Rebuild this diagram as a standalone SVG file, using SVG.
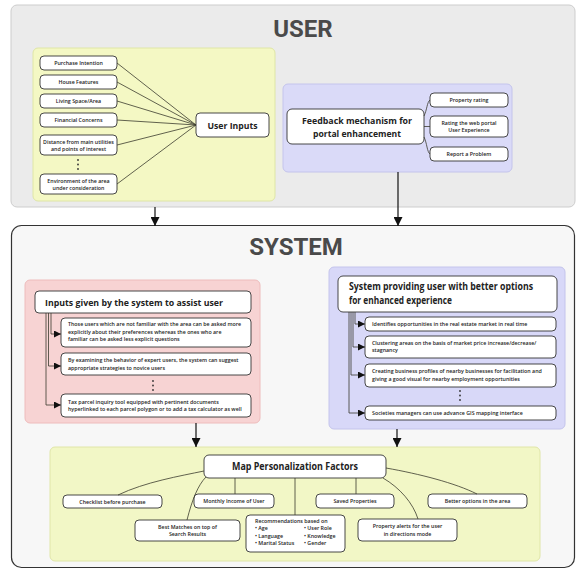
<svg xmlns="http://www.w3.org/2000/svg" width="577" height="571" viewBox="0 0 577 571">
<defs>
<style>
.t{font-family:"Open Sans","Liberation Sans",sans-serif;fill:#222}
.s{font-size:5.3px;font-weight:600}
.m{text-anchor:middle}
.h{font-weight:700}
.title{font-family:"Roboto","Liberation Sans",sans-serif;font-weight:700;font-size:24px;fill:#4a4a4a;text-anchor:middle}
.box{fill:#fff;stroke:#333;stroke-width:0.9}
.ln{fill:none;stroke:#3b3b2e;stroke-width:0.8}
.ar{fill:none;stroke:#111;stroke-width:1.2}
.dot{fill:#333}
</style>
<marker id="big" viewBox="0 0 10 10" refX="10" refY="5" markerWidth="9" markerHeight="9" markerUnits="userSpaceOnUse" orient="auto"><path d="M0,0 L10,5 L0,10 z" fill="#111"/></marker>
<marker id="sm" viewBox="0 0 10 10" refX="10" refY="5" markerWidth="7" markerHeight="7" markerUnits="userSpaceOnUse" orient="auto"><path d="M0,0 L10,5 L0,10 z" fill="#111"/></marker>
</defs>

<!-- USER panel -->
<g id="user-panel">
<rect x="11" y="5" width="564" height="202" rx="6" fill="#ebebeb" stroke="#cdcdcd" stroke-width="1"/>
<text class="title" x="303" y="37">USER</text>
</g>

<g id="user-inputs-group">
<rect x="33" y="48" width="242" height="153" rx="5" fill="#f4f8c4" stroke="#dfe6a6" stroke-width="1"/>
</g>

<g id="purchase-intention"><rect class="box" x="40" y="56" width="77" height="14" rx="4"/><text class="t s m" x="78.5" y="65">Purchase Intention</text></g>
<g id="house-features"><rect class="box" x="40" y="75" width="77" height="14" rx="4"/><text class="t s m" x="78.5" y="84">House Features</text></g>
<g id="living-space"><rect class="box" x="40" y="94" width="77" height="14" rx="4"/><text class="t s m" x="78.5" y="103">Living Space/Area</text></g>
<g id="financial-concerns"><rect class="box" x="40" y="113" width="77" height="14" rx="4"/><text class="t s m" x="78.5" y="122">Financial Concerns</text></g>
<g id="distance"><rect class="box" x="40" y="135" width="77" height="20" rx="4"/><text class="t s m" x="78.5" y="143.5">Distance from main utilities</text><text class="t s m" x="78.5" y="150.5">and points of interest</text></g>
<g id="dots-user"><circle class="dot" cx="78" cy="160" r="0.9"/><circle class="dot" cx="78" cy="164.5" r="0.9"/><circle class="dot" cx="78" cy="169" r="0.9"/></g>
<g id="environment"><rect class="box" x="40" y="174" width="77" height="20" rx="4"/><text class="t s m" x="78.5" y="182.5">Environment of the area</text><text class="t s m" x="78.5" y="189.5">under consideration</text></g>

<g id="user-inputs"><rect class="box" x="196" y="113" width="73" height="24" rx="4"/><text class="t h m" x="232.5" y="128.5" font-size="9.5" textLength="50" lengthAdjust="spacingAndGlyphs">User Inputs</text></g>

<g id="feedback-group"><rect x="283" y="84" width="229" height="88" rx="5" fill="#dadaf8" stroke="#c4c4ec" stroke-width="1"/></g>
<g id="feedback"><rect class="box" x="287" y="109" width="137" height="35" rx="5"/>
<text class="t h m" x="357" y="124" font-size="9.5" textLength="110" lengthAdjust="spacingAndGlyphs">Feedback mechanism for</text>
<text class="t h m" x="357" y="137" font-size="9.5" textLength="88" lengthAdjust="spacingAndGlyphs">portal enhancement</text></g>
<g id="property-rating"><rect class="box" x="430" y="93" width="78" height="14" rx="4"/><text class="t s m" x="469" y="102">Property rating</text></g>
<g id="rating-portal"><rect class="box" x="430" y="116" width="78" height="21" rx="4"/><text class="t s m" x="469" y="125">Rating the web portal</text><text class="t s m" x="469" y="132">User Experience</text></g>
<g id="report-problem"><rect class="box" x="430" y="147" width="78" height="14" rx="4"/><text class="t s m" x="469" y="156">Report a Problem</text></g>

<!-- SYSTEM panel -->
<g id="system-panel">
<rect x="11.5" y="225.5" width="563" height="342" rx="10" fill="#f7f7f7" stroke="#333" stroke-width="1.2"/>
<text class="title" x="296" y="255">SYSTEM</text>
</g>

<g id="assist-group"><rect x="25" y="280" width="235" height="143" rx="5" fill="#f7d3d3" stroke="#eebcbc" stroke-width="1"/></g>
<g id="assist-header"><rect class="box" x="35" y="291" width="216" height="22" rx="4"/><text class="t h" x="45" y="305.5" font-size="9.5" textLength="178" lengthAdjust="spacingAndGlyphs">Inputs given by the system to assist user</text></g>
<g id="assist-1"><rect class="box" x="61" y="318" width="190" height="29" rx="4"/>
<text class="t s" x="68" y="326">Those users which are not familiar with the area can be asked more</text>
<text class="t s" x="68" y="333.5">explicitly about their preferences whereas the ones who are</text>
<text class="t s" x="68" y="341">familiar can be asked less explicit questions</text></g>
<g id="assist-2"><rect class="box" x="61" y="353" width="190" height="22" rx="4"/>
<text class="t s" x="68" y="362">By examining the behavior of expert users, the system can suggest</text>
<text class="t s" x="68" y="369.5">appropriate strategies to novice users</text></g>
<g id="dots-assist"><circle class="dot" cx="153" cy="381" r="0.9"/><circle class="dot" cx="153" cy="385.5" r="0.9"/><circle class="dot" cx="153" cy="390" r="0.9"/></g>
<g id="assist-3"><rect class="box" x="61" y="394" width="190" height="23" rx="4"/>
<text class="t s" x="68" y="403.5">Tax parcel inquiry tool equipped with pertinent documents</text>
<text class="t s" x="68" y="411">hyperlinked to each parcel polygon or to add a tax calculator as well</text></g>

<g id="options-group"><rect x="329" y="267" width="236" height="162" rx="5" fill="#d8d8f8" stroke="#c4c4ec" stroke-width="1"/></g>
<g id="options-header"><rect class="box" x="338" y="276" width="219" height="36" rx="5"/>
<text class="t h" x="349" y="290" font-size="10" textLength="184" lengthAdjust="spacingAndGlyphs">System providing user with better options</text>
<text class="t h" x="349" y="304" font-size="10" textLength="103" lengthAdjust="spacingAndGlyphs">for enhanced experience</text></g>
<g id="opt-1"><rect class="box" x="365" y="317" width="191" height="14" rx="4"/><text class="t s" x="372" y="326">Identifies opportunities in the real estate market in real time</text></g>
<g id="opt-2"><rect class="box" x="365" y="336" width="191" height="22" rx="4"/><text class="t s" x="372" y="344.5">Clustering areas on the basis of market price increase/decrease/</text><text class="t s" x="372" y="352">stagnancy</text></g>
<g id="opt-3"><rect class="box" x="365" y="364" width="191" height="23" rx="4"/><text class="t s" x="372" y="373">Creating business profiles of nearby businesses for facilitation and</text><text class="t s" x="372" y="380.5">giving a good visual for nearby employment opportunities</text></g>
<g id="dots-opt"><circle class="dot" cx="460" cy="391" r="0.9"/><circle class="dot" cx="460" cy="395.5" r="0.9"/><circle class="dot" cx="460" cy="400" r="0.9"/></g>
<g id="opt-4"><rect class="box" x="365" y="406" width="191" height="14" rx="4"/><text class="t s" x="372" y="415">Societies managers can use advance GIS mapping interface</text></g>

<g id="factors-group"><rect x="50" y="447" width="490" height="114" rx="5" fill="#f2f7c6" stroke="#e0e6a8" stroke-width="1"/></g>
<g id="map-factors"><rect class="box" x="204" y="455" width="182" height="23" rx="5"/><text class="t h m" x="295" y="470" font-size="10" textLength="126" lengthAdjust="spacingAndGlyphs">Map Personalization Factors</text></g>
<g id="checklist"><rect class="box" x="63" y="495" width="99" height="13" rx="4"/><text class="t s m" x="112.5" y="503.5">Checklist before purchase</text></g>
<g id="monthly-income"><rect class="box" x="194" y="494" width="80" height="14" rx="4"/><text class="t s m" x="234" y="503">Monthly Income of User</text></g>
<g id="best-matches"><rect class="box" x="135" y="520" width="105" height="21" rx="4"/><text class="t s m" x="187.5" y="528.5">Best Matches on top of</text><text class="t s m" x="187.5" y="536">Search Results</text></g>
<g id="recommendations"><rect class="box" x="246" y="515" width="99" height="37" rx="4"/>
<text class="t s" x="255" y="522.5">Recommendations based on</text>
<text class="t s" x="255" y="530">• Age</text><text class="t s" x="255" y="537.5">• Language</text><text class="t s" x="255" y="545">• Marital Status</text>
<text class="t s" x="304" y="530">• User Role</text><text class="t s" x="304" y="537.5">• Knowledge</text><text class="t s" x="304" y="545">• Gender</text></g>
<g id="saved-properties"><rect class="box" x="316" y="494" width="78" height="14" rx="4"/><text class="t s m" x="355" y="503">Saved Properties</text></g>
<g id="property-alerts"><rect class="box" x="358" y="519" width="99" height="22" rx="4"/><text class="t s m" x="407.5" y="528">Property alerts for the user</text><text class="t s m" x="407.5" y="535.5">in directions mode</text></g>
<g id="better-options"><rect class="box" x="428" y="494" width="99" height="14" rx="4"/><text class="t s m" x="477.5" y="503">Better options in the area</text></g>

<g id="connectors">
<!-- user inputs fan-in -->
<path class="ln" d="M117,63 L196,125"/>
<path class="ln" d="M117,82 L196,125"/>
<path class="ln" d="M117,101 L196,125"/>
<path class="ln" d="M117,120 L196,125"/>
<path class="ln" d="M117,145 L196,125"/>
<path class="ln" d="M117,184 L196,125"/>
<!-- feedback -->
<path class="ln" d="M424,116 C427,110 427,102 430,100"/>
<path class="ln" d="M424,126.5 L430,126.5"/>
<path class="ln" d="M424,137 C427,143 427,152 430,154"/>
<!-- user to system -->
<path class="ar" d="M155,207 L155,226" marker-end="url(#big)"/>
<path class="ar" d="M398,172 L398,226" marker-end="url(#big)"/>
<!-- assist -->
<path class="ln" d="M51,313 L51,334 L61,334" marker-end="url(#sm)"/>
<path class="ln" d="M48.5,313 L48.5,366 L61,366" marker-end="url(#sm)"/>
<path class="ln" d="M46,313 L46,405 L61,405" marker-end="url(#sm)"/>
<!-- options -->
<path class="ln" d="M355,312 L355,324 L365,324" marker-end="url(#sm)"/>
<path class="ln" d="M353,312 L353,347 L365,347" marker-end="url(#sm)"/>
<path class="ln" d="M351,312 L351,375 L365,375" marker-end="url(#sm)"/>
<path class="ln" d="M349,312 L349,413 L365,413" marker-end="url(#sm)"/>
<!-- to factors -->
<path class="ar" d="M196,423 L196,447" marker-end="url(#big)"/>
<path class="ar" d="M397,429 L397,447" marker-end="url(#big)"/>
<!-- factors -->
<path class="ln" d="M118,495 C145,482 180,476 204,471"/>
<path class="ln" d="M187,520 C192,500 198,485 206,477"/>
<path class="ln" d="M235,478 L235,494"/>
<path class="ln" d="M295,478 L295,515"/>
<path class="ln" d="M356,478 L356,494"/>
<path class="ln" d="M383,478 C400,488 413,503 418,519"/>
<path class="ln" d="M386,468 C420,474 455,483 477,494"/>
</g>
</svg>
